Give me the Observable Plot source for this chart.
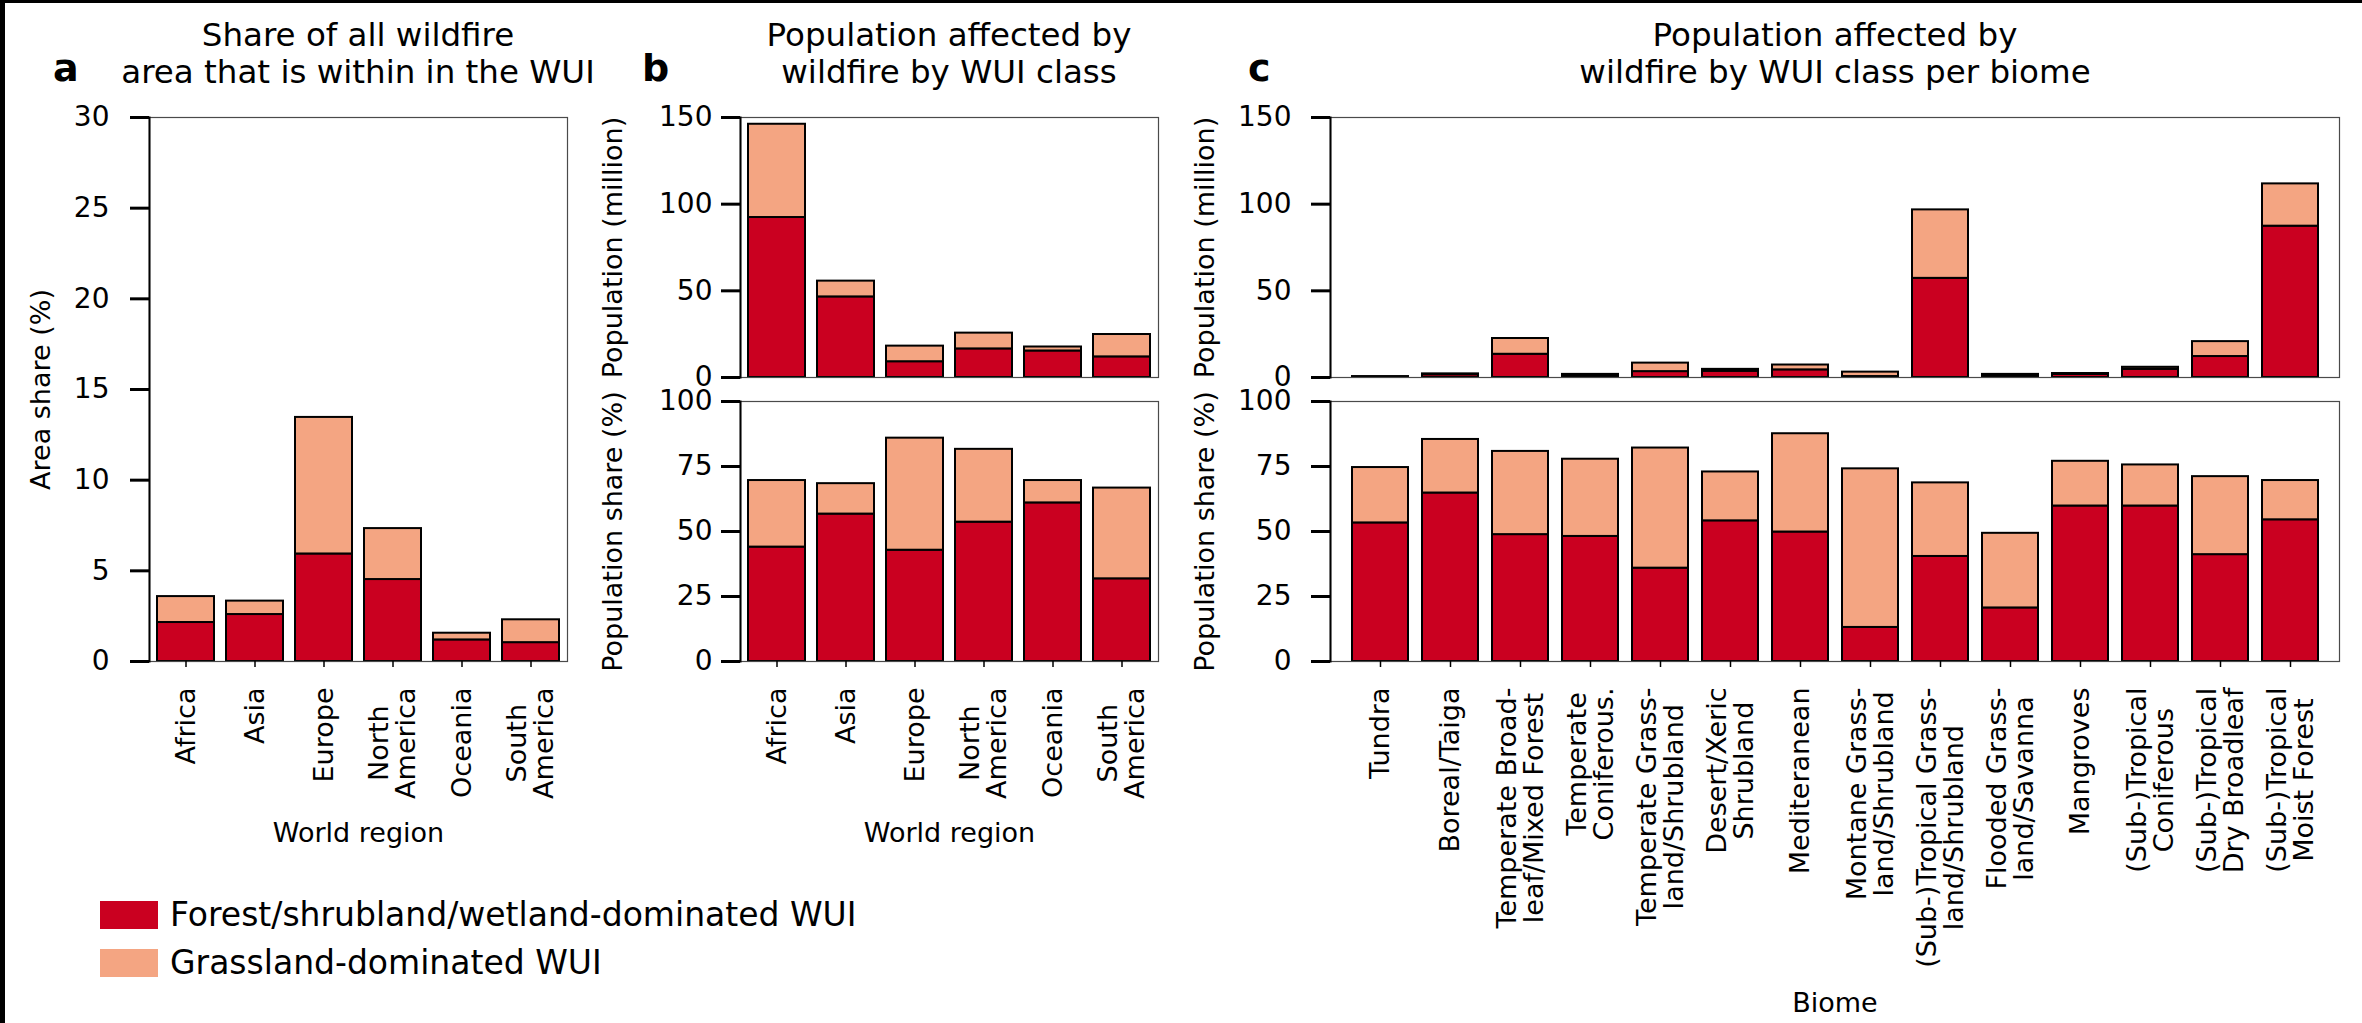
<!DOCTYPE html>
<html><head><meta charset="utf-8">
<script src="https://cdn.jsdelivr.net/npm/d3@7"></script>
<script src="https://cdn.jsdelivr.net/npm/@observablehq/plot@0.6"></script>
<style>
body{margin:0;background:#fff;}
#fig{position:relative;width:2362px;height:1023px;background:#fff;font-family:"DejaVu Sans",sans-serif;overflow:hidden;color:#000;}
.title{position:absolute;font-size:32.5px;line-height:37px;text-align:center;white-space:nowrap;transform:translateX(-50%);top:17px;}
.letter{position:absolute;font-size:38px;line-height:38px;font-weight:bold;top:49px;}
.leg{position:absolute;left:100px;display:flex;align-items:center;font-size:33px;line-height:36px;}
.leg span.box{display:inline-block;width:58px;height:28px;margin-right:12px;}
svg{position:absolute;}
</style></head>
<body><div id="fig"></div>
<script>
// ---------- data ----------
const regions = ["Africa", "Asia", "Europe", "North\nAmerica", "Oceania", "South\nAmerica"];
const areaForest = [2.15, 2.59, 5.93, 4.52, 1.19, 1.04];
const areaTotal = [3.58, 3.33, 13.46, 7.33, 1.56, 2.30];
const popForest = [92.3, 46.5, 9.1, 16.5, 15.3, 11.9];
const popTotal = [146.1, 55.6, 18.1, 25.6, 17.6, 24.8];
const popShareForest = [44.0, 56.7, 42.8, 53.6, 61.0, 31.8];
const popShareTotal = [69.6, 68.4, 85.9, 81.6, 69.6, 66.7];

const biomes = ["Tundra", "Boreal/Taiga", "Temperate Broad-\nleaf/Mixed Forest", "Temperate\nConiferous.",
  "Temperate Grass-\nland/Shrubland", "Desert/Xeric\nShrubland", "Mediteranean", "Montane Grass-\nland/Shrubland",
  "(Sub-)Tropical Grass-\nland/Shrubland", "Flooded Grass-\nland/Savanna", "Mangroves", "(Sub-)Tropical\nConiferous",
  "(Sub-)Tropical\nDry Broadleaf", "(Sub-)Tropical\nMoist Forest"];
const biomePopForest = [0.36, 1.6, 13.4, 1.1, 3.4, 3.6, 4.4, 0.55, 57.2, 0.75, 1.8, 4.7, 12.1, 87.3];
const biomePopTotal = [0.5, 2.1, 22.5, 1.8, 8.3, 4.7, 7.2, 3.1, 96.7, 1.8, 2.3, 5.9, 20.7, 111.7];
const biomeShareForest = [53.3, 64.8, 48.8, 48.1, 35.9, 54.1, 49.8, 13.1, 40.4, 20.6, 59.8, 59.8, 41.1, 54.5];
const biomeShareTotal = [74.6, 85.4, 80.8, 77.8, 82.1, 72.9, 87.6, 74.1, 68.7, 49.3, 77.0, 75.6, 71.1, 69.6];

const ticksArea = [0, 5, 10, 15, 20, 25, 30];
const ticksPop = [0, 50, 100, 150];
const ticksShare = [0, 25, 50, 75, 100];

const classes = ["Forest/shrubland/wetland-dominated WUI", "Grassland-dominated WUI"];
const colors = ["#ca0020", "#f4a582"];

// ---------- helpers ----------
const fig = document.getElementById("fig");

function table(cats, forest, total) {
  return cats.map((c, i) => ({cat: c, f: forest[i], t: total[i]}));
}

function panel(o) {
  const data = table(o.cats, o.forest, o.total);
  const marks = [
    Plot.barY(data, {x: "cat", y1: 0, y2: "f", fill: colors[0], stroke: "black", strokeWidth: 2}),
    Plot.barY(data, {x: "cat", y1: "f", y2: "t", fill: colors[1], stroke: "black", strokeWidth: 2}),
    Plot.frame({stroke: "#4a4a4a", strokeWidth: 1.2}),
    Plot.frame({anchor: "left", stroke: "#000", strokeWidth: 2}),
    Plot.axisY({ticks: o.yTicks, tickSize: 19, tickPadding: o.tickPad, strokeWidth: 3, fontSize: 28, label: null, tickFormat: d => String(d)}),
    Plot.text([o.ylabel], {frameAnchor: "left", dx: o.ylabelDx, rotate: -90, fontSize: 27, textAnchor: "middle", lineAnchor: "middle", fill: "#000"})
  ];
  if (o.xAxis) {
    marks.push(Plot.axisX({tickSize: 6, tickPadding: 20, strokeWidth: 1.5, tickRotate: -90, fontSize: 27, label: null}));
    marks.push(Plot.text([o.xlabel], {frameAnchor: "bottom", dy: o.xlabelDy, fontSize: 27, textAnchor: "middle", lineAnchor: "middle", fill: "#000"}));
  }
  const svg = Plot.plot({
    width: o.width, height: o.height,
    marginLeft: o.mL, marginRight: o.mR, marginTop: o.mT, marginBottom: o.mB,
    style: {fontFamily: "DejaVu Sans", background: "transparent", overflow: "visible", color: "#000"},
    x: {domain: o.cats, paddingInner: o.pi, paddingOuter: o.po, align: 0.5, axis: o.xAxis ? undefined : null},
    y: {domain: o.yDomain},
    marks
  });
  svg.style.left = o.left + "px";
  svg.style.top = o.top + "px";
  svg.style.maxWidth = "none";
  fig.appendChild(svg);
  // center-align the lines of multi-line rotated tick labels (block anchored at tick)
  svg.querySelectorAll('g[aria-label="x-axis tick label"] text').forEach(t => {
    const spans = [...t.querySelectorAll("tspan")];
    if (spans.length < 2) return;
    const w = spans.map(s => s.getComputedTextLength());
    const m = Math.max(...w);
    spans.forEach((s, i) => s.setAttribute("x", -(m - w[i]) / 2));
  });
  return svg;
}

// ---------- panel a ----------
panel({cats: regions, forest: areaForest, total: areaTotal, yDomain: [0, 30], yTicks: ticksArea,
  left: 0, top: 0, width: 590, height: 870, mL: 149, mR: 23, mT: 117, mB: 209,
  pi: 0.18, po: 0.1, tickPad: 21, ylabel: "Area share (%)", ylabelDx: -108,
  xAxis: true, xlabel: "World region", xlabelDy: 172});

// ---------- panel b ----------
panel({cats: regions, forest: popForest, total: popTotal, yDomain: [0, 150], yTicks: ticksPop,
  left: 600, top: 0, width: 580, height: 380, mL: 140, mR: 22, mT: 117, mB: 3,
  pi: 0.18, po: 0.1, tickPad: 9, ylabel: "Population (million)", ylabelDx: -127, xAxis: false});
panel({cats: regions, forest: popShareForest, total: popShareTotal, yDomain: [0, 100], yTicks: ticksShare,
  left: 600, top: 390, width: 580, height: 633, mL: 140, mR: 22, mT: 11, mB: 362,
  pi: 0.18, po: 0.1, tickPad: 9, ylabel: "Population share (%)", ylabelDx: -127,
  xAxis: true, xlabel: "World region", xlabelDy: 172});

// ---------- panel c ----------
panel({cats: biomes, forest: biomePopForest, total: biomePopTotal, yDomain: [0, 150], yTicks: ticksPop,
  left: 1200, top: 0, width: 1159, height: 380, mL: 130, mR: 20, mT: 117, mB: 3,
  pi: 0.2, po: 0.28, tickPad: 20, ylabel: "Population (million)", ylabelDx: -125, xAxis: false});
panel({cats: biomes, forest: biomeShareForest, total: biomeShareTotal, yDomain: [0, 100], yTicks: ticksShare,
  left: 1200, top: 390, width: 1159, height: 633, mL: 130, mR: 20, mT: 11, mB: 362,
  pi: 0.2, po: 0.28, tickPad: 20, ylabel: "Population share (%)", ylabelDx: -125,
  xAxis: true, xlabel: "Biome", xlabelDy: 342});

// ---------- titles, letters, legend ----------
function div(cls, html, style) {
  const d = document.createElement("div");
  d.className = cls; d.innerHTML = html;
  Object.assign(d.style, style);
  fig.appendChild(d);
  return d;
}
div("title", "Share of all wildfire<br>area that is within in the WUI", {left: "358px"});
div("title", "Population affected by<br>wildfire by WUI class", {left: "949px"});
div("title", "Population affected by<br>wildfire by WUI class per biome", {left: "1835px"});
div("letter", "a", {left: "53px"});
div("letter", "b", {left: "642px"});
div("letter", "c", {left: "1248px"});
classes.forEach((c, i) => {
  div("leg", `<span class="box" style="background:${colors[i]}"></span>${c}`, {top: (897 + i * 48) + "px"});
});
// thin dark border on the left and top edges
div("", "", {position: "absolute", left: "0", top: "0", width: "5px", height: "1023px", background: "#000"});
div("", "", {position: "absolute", left: "0", top: "0", width: "2362px", height: "3px", background: "#000"});
</script>
</body></html>
